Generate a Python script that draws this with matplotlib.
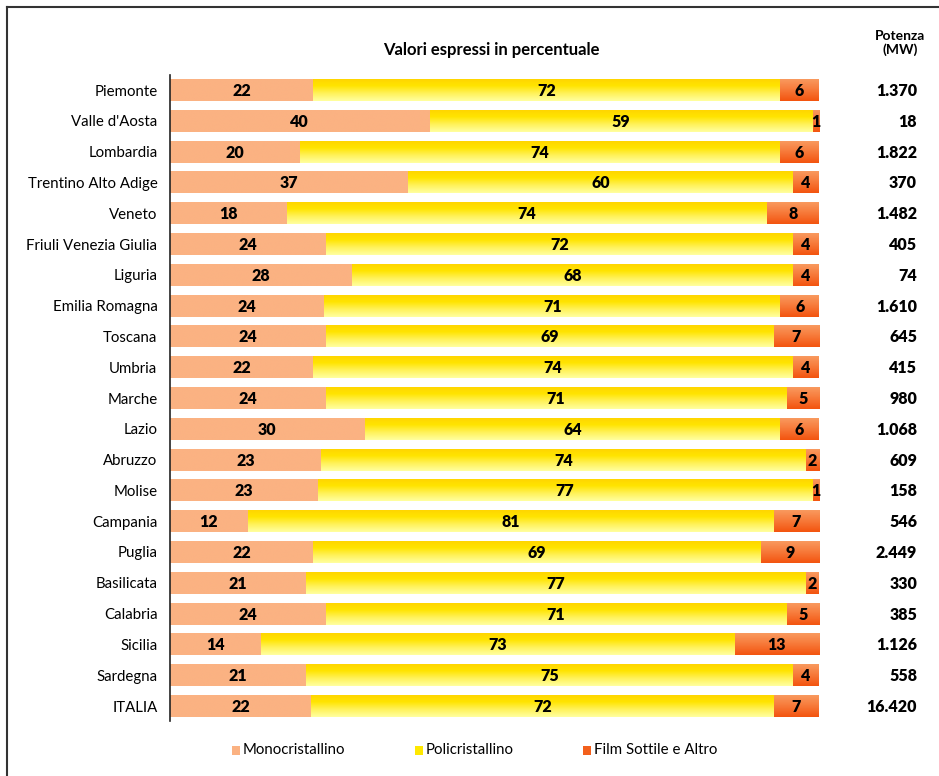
import numpy as np
import matplotlib
matplotlib.use("Agg")
import matplotlib.pyplot as plt
from matplotlib.colors import LinearSegmentedColormap
from matplotlib.patches import Rectangle
from matplotlib.lines import Line2D
from matplotlib.transforms import blended_transform_factory

plt.rcParams['font.family'] = ['Lato', 'DejaVu Sans']

regioni = ["Piemonte", "Valle d'Aosta", "Lombardia", "Trentino Alto Adige", "Veneto",
           "Friuli Venezia Giulia", "Liguria", "Emilia Romagna", "Toscana", "Umbria",
           "Marche", "Lazio", "Abruzzo", "Molise", "Campania", "Puglia", "Basilicata",
           "Calabria", "Sicilia", "Sardegna", "ITALIA"]
monocristallino = [22, 40, 20, 37, 18, 24, 28, 24, 24, 22, 24, 30, 23, 23, 12, 22, 21, 24, 14, 21, 22]
policristallino = [72, 59, 74, 60, 74, 72, 68, 71, 69, 74, 71, 64, 74, 77, 81, 69, 77, 71, 73, 75, 72]
film_sottile = [6, 1, 6, 4, 8, 4, 4, 6, 7, 4, 5, 6, 2, 1, 7, 9, 2, 5, 13, 4, 7]
potenza = ["1.370", "18", "1.822", "370", "1.482", "405", "74", "1.610", "645", "415",
           "980", "1.068", "609", "158", "546", "2.449", "330", "385", "1.126", "558", "16.420"]

serie = ["Monocristallino", "Policristallino", "Film Sottile e Altro"]

# vertical colour ramps (top -> bottom) for each series
ramps = [
    ["#FBB282", "#FBB282"],
    ["#FFD400", "#FFE400", "#FFF25A", "#FFFFA0"],
    ["#F99C62", "#F77A3A", "#F3540F"],
]
cmaps = [LinearSegmentedColormap.from_list(f"r{i}", c) for i, c in enumerate(ramps)]
legend_colors = ["#FBB282", "#FFE800", "#F3601C"]

W, H = 939, 776
fig = plt.figure(figsize=(W / 100, H / 100), dpi=100)

ax_left, ax_right = 170 / W, 819 / W
ax_top, ax_bot = 1 - 74.6 / H, 1 - 721.4 / H
ax = fig.add_axes([ax_left, ax_bot, ax_right - ax_left, ax_top - ax_bot])

n = len(regioni)
y = np.arange(n)
data = np.array([monocristallino, policristallino, film_sottile], dtype=float)
quote = data / data.sum(axis=0) * 100  # 100% stacked
bar_h = 0.72
grad = np.linspace(0, 1, 64).reshape(-1, 1)

left = np.zeros(n)
for k in range(3):
    bars = ax.barh(y, quote[k], left=left, height=bar_h, color="none", edgecolor="none")
    for i, b in enumerate(bars):
        x0, w = b.get_x(), b.get_width()
        im = ax.imshow(grad, cmap=cmaps[k], aspect="auto", interpolation="bilinear",
                       extent=[x0, x0 + w, y[i] + bar_h / 2, y[i] - bar_h / 2],
                       origin="upper", zorder=2)
        im.set_clip_path(b)
        ax.text(x0 + w / 2, y[i] + 0.03, f"{int(data[k, i])}", ha="center", va="center",
                fontsize=11.5, fontweight="heavy", color="black", zorder=3)
    left += quote[k]

ax.set_xlim(0, 100)
ax.set_ylim(n - 0.5, -0.5)
ax.set_yticks(y)
ax.set_yticklabels(regioni, fontsize=10.8)
ax.tick_params(axis="y", length=0, pad=9)
ax.set_xticks([])
for s in ["top", "right", "bottom"]:
    ax.spines[s].set_visible(False)
ax.spines["left"].set_linewidth(1.2)
ax.spines["left"].set_color("#222222")

# installed power column
tr = blended_transform_factory(fig.transFigure, ax.transData)
for i, p in enumerate(potenza):
    ax.text(917 / W, y[i] + 0.03, p, transform=tr, ha="right", va="center",
            fontsize=11.5, fontweight="heavy", clip_on=False)

fig.text(491 / W, 1 - 50 / H, "Valori espressi in percentuale", ha="center", va="center",
         fontsize=12, fontweight="bold")
fig.text(900 / W, 1 - 43 / H, "Potenza\n(MW)", ha="center", va="center",
         fontsize=10, fontweight="bold", linespacing=1.1)

# legend
leg_items = [(232, serie[0]), (415, serie[1]), (583, serie[2])]
for (x, label), c in zip(leg_items, legend_colors):
    fig.patches.append(Rectangle((x / W, 1 - 755 / H), 8 / W, 9 / H,
                                 transform=fig.transFigure, facecolor=c, edgecolor="none"))
    fig.text((x + 11) / W, 1 - 750 / H, label, ha="left", va="center", fontsize=10.8)

# outer frame (top and left edges)
fig.add_artist(Line2D([7 / W, 7 / W], [0, 1 - 7 / H], transform=fig.transFigure,
                      color="#333333", linewidth=1.5))
fig.add_artist(Line2D([7 / W, 1], [1 - 7 / H, 1 - 7 / H], transform=fig.transFigure,
                      color="#333333", linewidth=1.5))

fig.savefig("out.png", dpi=100)
